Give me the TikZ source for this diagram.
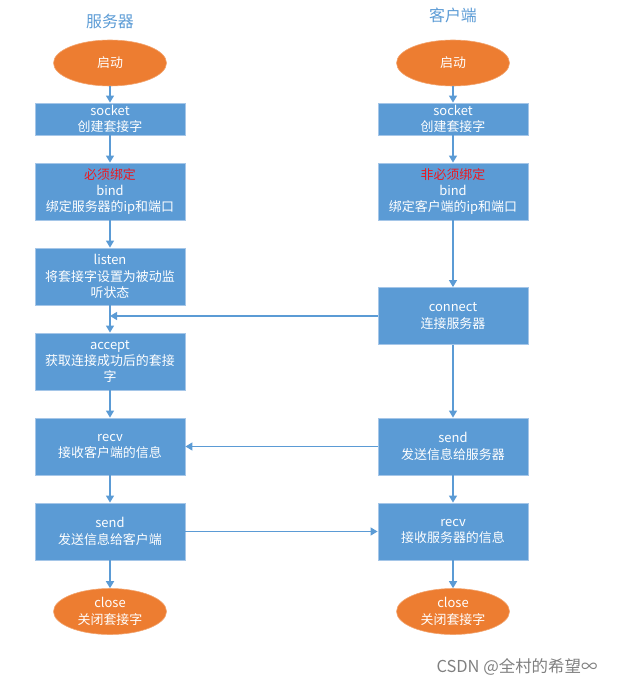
\documentclass[tikz,border=0pt]{standalone}
\usepackage{fontspec}
\setmainfont{Noto Sans CJK SC}
\usepackage{tikz}
\usetikzlibrary{arrows.meta, shapes.geometric}
\definecolor{flowblue}{RGB}{91,155,213}
\definecolor{flowedge}{RGB}{165,198,232}
\definecolor{flowred}{RGB}{232,28,36}
\definecolor{termorange}{RGB}{237,125,49}
\tikzset{every picture/.style={x=1bp,y=-1bp},
  procbox/.style={rectangle,fill=flowblue,draw=flowedge,line width=0.8bp,text=white,
    minimum width=150bp,minimum height=57bp,text width=144bp,align=center,inner sep=2bp,
    font=\fontsize{13}{16.5}\selectfont},
  termnode/.style={ellipse,fill=termorange,draw=termorange!70!white,line width=0.6bp,text=white,
    minimum width=113bp,minimum height=46bp,inner sep=0bp,align=center,
    font=\fontsize{13}{16.5}\selectfont},
  headline/.style={text=flowblue,font=\fontsize{16}{19}\selectfont},
  link/.style={draw=flowblue,line width=1.3bp,-{Triangle[width=8bp,length=7bp]}}}

\begin{document}
\begin{tikzpicture}
            \useasboundingbox (0,0) rectangle (626,685);

            \node[headline] (st) at (110, 21) {服务器};
            \node[headline] (ct) at (453, 15) {客户端};

            \node[termnode] (s0) at (110, 63) {启动};
            \node[procbox, minimum height=32bp] (s1) at (110, 119) {socket\\创建套接字};
            \node[procbox] (s2) at (110, 191.5) {\textcolor{flowred}{必须绑定}\\bind\\绑定服务器的ip和端口};
            \node[procbox] (s3) at (110, 276.5) {listen\\将套接字设置为被动监\\听状态};
            \node[procbox] (s4) at (110, 361.5) {accept\\获取连接成功后的套接\\字};
            \node[procbox] (s5) at (110, 446.5) {recv\\接收客户端的信息};
            \node[procbox] (s6) at (110, 531.5) {send\\发送信息给客户端};
            \node[termnode] (s7) at (110, 611.5) {close\\关闭套接字};

            \node[termnode] (c0) at (453, 63) {启动};
            \node[procbox, minimum height=32bp] (c1) at (453, 119) {socket\\创建套接字};
            \node[procbox] (c2) at (453, 191.5) {\textcolor{flowred}{非必须绑定}\\bind\\绑定客户端的ip和端口};
            \node[procbox] (c3) at (453, 316) {connect\\连接服务器};
            \node[procbox] (c4) at (453, 446.5) {send\\发送信息给服务器};
            \node[procbox] (c5) at (453, 531.5) {recv\\接收服务器的信息};
            \node[termnode] (c6) at (453, 611.5) {close\\关闭套接字};

            \node[text=black!50, font=\fontsize{16.5}{18}\selectfont] (wm) at (517, 667) {CSDN @全村的希望∞};

            \foreach \from/\to in {s0/s1, s1/s2, s2/s3, s3/s4, s4/s5, s5/s6, s6/s7,
                                   c0/c1, c1/c2, c2/c3, c3/c4, c4/c5, c5/c6}
              \draw[link] (\from) -- (\to);

            \draw[link] (c3.west) -- (c3.west -| s4.north);
            \draw[link] (c4.west) -- (s5.east);
            \draw[link] (s6.east) -- (c5.west);
        \end{tikzpicture}
\end{document}
